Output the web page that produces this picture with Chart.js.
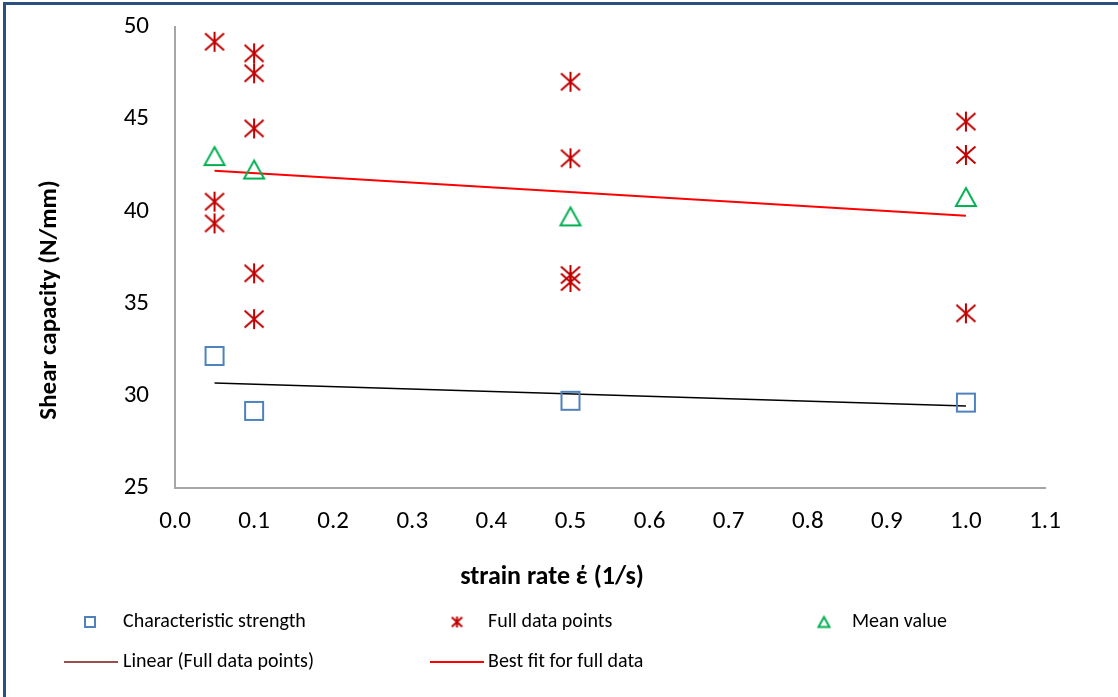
<!DOCTYPE html>
<html>
<head>
<meta charset="utf-8">
<script src="https://cdn.jsdelivr.net/npm/chart.js@4.4.0/dist/chart.umd.min.js"></script>
<style>
  html, body { margin: 0; padding: 0; background: #fff; }
  #wrap { width: 1118px; height: 697px; }
</style>
</head>
<body>
<div id="wrap"><canvas id="shear-chart" width="1118" height="697"></canvas></div>
<script>
// shear capacity vs strain rate
const strainRates = [0.05, 0.1, 0.5, 1.0];
const charStrength = [32.16, 29.18, 29.73, 29.63];
const meanValue = [43.0, 42.27, 39.73, 40.78];

const fullRates = [0.05, 0.05, 0.05, 0.1, 0.1, 0.1, 0.1, 0.1, 0.5, 0.5, 0.5, 0.5, 1.0, 1.0, 1.0];
const fullValues = [49.2, 40.53, 39.35, 48.57, 47.49, 44.5, 36.64, 34.16, 47.03, 42.88, 36.55, 36.17, 44.87, 43.06, 34.47];

// trend lines (end points)
const fitRates = [0.05, 1.0];
const bestFitValues = [42.2, 39.77];
const linearFitValues = [30.7, 29.45];

const xTicks = [0.0, 0.1, 0.2, 0.3, 0.4, 0.5, 0.6, 0.7, 0.8, 0.9, 1.0, 1.1];
const yTicks = [25, 30, 35, 40, 45, 50];

const BLUE = "#4f81bd";
const DARK_RED = "#c00000";
const GREEN = "#00b050";
const FONT = "Carlito, Lato, 'Open Sans', sans-serif";

function toPoints(xs, ys) {
  return xs.map((x, i) => ({ x: x, y: ys[i] }));
}

function markerCanvas(size, draw) {
  const c = document.createElement("canvas");
  c.width = size;
  c.height = size;
  draw(c.getContext("2d"), size / 2);
  return c;
}

function squareMarker(side, lw) {
  return markerCanvas(side + 6, (g, c) => {
    g.strokeStyle = BLUE;
    g.lineWidth = lw;
    g.strokeRect(c - side / 2, c - side / 2, side, side);
  });
}

function starMarker(h, lw) {
  return markerCanvas(h + 6, (g, c) => {
    g.strokeStyle = DARK_RED;
    g.lineWidth = lw;
    const a = h / 2;
    g.beginPath();
    g.moveTo(c, c - a);
    g.lineTo(c, c + a);
    g.moveTo(c - a * 0.95, c - a * 0.85);
    g.lineTo(c + a * 0.95, c + a * 0.85);
    g.moveTo(c + a * 0.95, c - a * 0.85);
    g.lineTo(c - a * 0.95, c + a * 0.85);
    g.stroke();
  });
}

function triangleMarker(w, h, lw) {
  return markerCanvas(w + 6, (g, c) => {
    g.strokeStyle = GREEN;
    g.lineWidth = lw;
    g.lineJoin = "miter";
    g.beginPath();
    g.moveTo(c, c - h / 2);
    g.lineTo(c + w / 2, c + h / 2);
    g.lineTo(c - w / 2, c + h / 2);
    g.closePath();
    g.stroke();
  });
}

const squareBig = squareMarker(18, 2);
const starBig = starMarker(20, 2);
const triangleBig = triangleMarker(20, 18, 2);
const squareSmall = squareMarker(10, 2);
const starSmall = starMarker(11, 2);
const triangleSmall = triangleMarker(11, 10, 2);

// frame, axis titles and the two-row legend
const decorations = {
  id: "decorations",
  beforeDraw(chart) {
    const ctx = chart.ctx;
    ctx.save();
    ctx.fillStyle = "#fff";
    ctx.fillRect(0, 0, chart.width, chart.height);
    ctx.fillStyle = "#2b4f81";
    ctx.fillRect(3, 2, chart.width - 3, 3);
    ctx.fillRect(3, 2, 3, chart.height - 2);
    ctx.restore();
  },
  afterDraw(chart) {
    const ctx = chart.ctx;
    ctx.save();
    ctx.fillStyle = "#000";
    ctx.font = "bold 26px " + FONT;
    ctx.textAlign = "center";
    ctx.textBaseline = "middle";
    ctx.fillText("strain rate έ (1/s)", 552, 577);
    ctx.font = "bold 25px " + FONT;
    ctx.translate(50, 300);
    ctx.rotate(-Math.PI / 2);
    ctx.fillText("Shear capacity (N/mm)", 0, 0);
    ctx.restore();

    const ds = chart.data.datasets;
    const rows = [
      { text: ds[0].label, img: squareSmall, mx: 90, tx: 123, y: 622 },
      { text: ds[1].label, img: starSmall, mx: 457, tx: 488, y: 622 },
      { text: ds[2].label, img: triangleSmall, mx: 824, tx: 852, y: 622 },
      { text: ds[4].label, line: "#9b4d4b", x0: 64, x1: 118, tx: 123, y: 662 },
      { text: ds[3].label, line: "#ff0000", x0: 430, x1: 484, tx: 488, y: 662 },
    ];
    ctx.save();
    ctx.font = "20px " + FONT;
    ctx.textBaseline = "middle";
    ctx.fillStyle = "#000";
    rows.forEach((r) => {
      if (r.img) {
        ctx.drawImage(r.img, r.mx - r.img.width / 2, r.y - r.img.height / 2);
      } else {
        ctx.strokeStyle = r.line;
        ctx.lineWidth = 2;
        ctx.beginPath();
        ctx.moveTo(r.x0, r.y);
        ctx.lineTo(r.x1, r.y);
        ctx.stroke();
      }
      ctx.fillText(r.text, r.tx, r.y);
    });
    ctx.restore();
  },
};

new Chart(document.getElementById("shear-chart"), {
  type: "scatter",
  data: {
    datasets: [
      {
        label: "Characteristic strength",
        data: toPoints(strainRates, charStrength),
        pointStyle: squareBig,
        order: 1,
      },
      {
        label: "Full data points",
        data: toPoints(fullRates, fullValues),
        pointStyle: starBig,
        order: 1,
      },
      {
        label: "Mean value",
        data: toPoints(strainRates, meanValue),
        pointStyle: triangleBig,
        order: 1,
      },
      {
        type: "line",
        label: "Best fit for full data",
        data: toPoints(fitRates, bestFitValues),
        borderColor: "#ff0000",
        borderWidth: 2,
        pointRadius: 0,
        fill: false,
        order: 2,
      },
      {
        type: "line",
        label: "Linear (Full data points)",
        data: toPoints(fitRates, linearFitValues),
        borderColor: "#000000",
        borderWidth: 1.5,
        pointRadius: 0,
        fill: false,
        order: 2,
      },
    ],
  },
  options: {
    responsive: false,
    animation: false,
    layout: { padding: { left: 0, right: 73, top: 27, bottom: 0 } },
    scales: {
      x: {
        type: "linear",
        min: 0,
        max: 1.1,
        afterBuildTicks: (s) => {
          s.ticks = xTicks.map((v) => ({ value: v }));
        },
        afterFit: (s) => {
          s.height = 209;
        },
        grid: { display: false, drawTicks: false },
        border: { display: true, color: "#a6a6a6", width: 2 },
        ticks: {
          autoSkip: false,
          maxRotation: 0,
          padding: 19,
          color: "#000",
          font: { family: FONT, size: 25 },
          callback: (v) => Number(v).toFixed(1),
        },
      },
      y: {
        min: 25,
        max: 50,
        afterBuildTicks: (s) => {
          s.ticks = yTicks.map((v) => ({ value: v }));
        },
        afterFit: (s) => {
          s.width = 175;
          // keep the tick padding from pushing the plot area down
          s.paddingTop = 12;
          s.paddingBottom = 12;
        },
        grid: { display: false, drawTicks: false },
        border: { display: true, color: "#a6a6a6", width: 2 },
        ticks: {
          padding: 26,
          color: "#000",
          font: { family: FONT, size: 25 },
        },
      },
    },
    plugins: {
      legend: { display: false },
      tooltip: { enabled: false },
    },
  },
  plugins: [decorations],
});
</script>
</body>
</html>
